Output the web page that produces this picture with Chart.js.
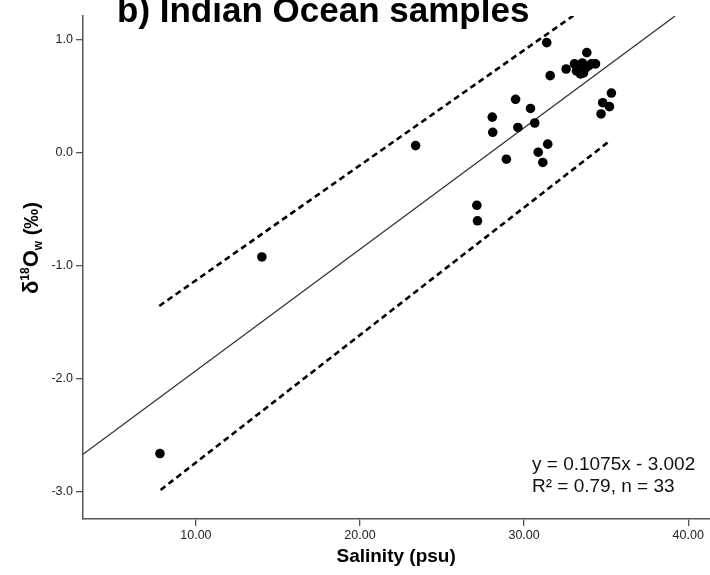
<!DOCTYPE html>
<html>
<head>
<meta charset="utf-8">
<script src="https://cdn.jsdelivr.net/npm/chart.js@4.4.1/dist/chart.umd.min.js"></script>
<style>
  html, body { margin: 0; padding: 0; background: #fff; overflow: hidden; }
  #wrap { width: 714px; height: 575px; position: relative; }
</style>
</head>
<body>
<div id="wrap"><canvas id="chart"></canvas></div>
<script>
// 样本数据：盐度 (psu) 和 δ18Ow (‰)
const salinity = [
    7.81, 14.02, 23.39, 31.38, 31.59, 32.56, 33.82, 29.48, 30.39, 28.06,
    28.09, 29.62, 30.65, 28.92, 30.86, 31.44, 31.14, 27.12, 27.16, 34.69,
    34.79, 35.20, 35.32, 33.07, 33.19, 33.37, 33.55, 33.62, 33.74, 33.92,
    34.10, 34.35, 33.43
];
const d18O = [
    -2.66, -0.92, 0.065, 0.976, 0.684, 0.743, 0.888, 0.475, 0.394, 0.317,
    0.183, 0.226, 0.265, -0.055, 0.007, 0.078, -0.084, -0.463, -0.60, 0.345,
    0.445, 0.41, 0.53, 0.788, 0.726, 0.761, 0.796, 0.708, 0.752, 0.77,
    0.788, 0.788, 0.699
];

// 回归线 y = 0.1075x - 3.002
const fitSlope = 0.1075;
const fitIntercept = -3.002;
const fitX = [3.12, 39.2];

// 预测区间（虚线）
const upperX = [7.77, 33.0];
const upperY = [-1.354, 1.215];
const lowerX = [7.85, 35.24];
const lowerY = [-2.982, 0.109];

// 坐标轴
const xTicks = [10, 20, 30, 40];
const yTicks = [-3, -2, -1, 0, 1];
const xRange = [3.12, 41.28];
const yRange = [-3.239, 1.212];

const titleText = 'b) Indian Ocean samples';
const eqLines = ['y = 0.1075x - 3.002', 'R\u00b2 = 0.79, n = 33'];

const FONT = '"Liberation Sans", Arial, sans-serif';
const AXIS_COLOR = '#555';

function toPoints(xs, ys) {
    return xs.map((x, i) => ({ x: x, y: ys[i] }));
}

// 标题、y轴标题和公式
const textPlugin = {
    id: 'texts',
    afterDraw(chart) {
        const ctx = chart.ctx;
        ctx.save();
        ctx.fillStyle = '#000';
        ctx.textBaseline = 'alphabetic';

        // 标题（顶部被裁切）
        ctx.font = 'bold 35px ' + FONT;
        ctx.textAlign = 'left';
        ctx.fillText(titleText, 117, 22);

        // 公式
        ctx.font = '19px ' + FONT;
        ctx.fillStyle = '#111';
        ctx.fillText(eqLines[0], 532, 470);
        ctx.fillText(eqLines[1], 532, 492);

        // y轴标题 δ18Ow (‰)
        ctx.translate(38, 248);
        ctx.rotate(-Math.PI / 2);
        const parts = [
            { t: '\u03b4', f: 'bold 22px ', dy: 0 },
            { t: '18', f: 'bold 12px ', dy: -9 },
            { t: 'O', f: 'bold 22px ', dy: 0 },
            { t: 'w', f: 'bold 12px ', dy: 4 },
            { t: ' (\u2030)', f: 'bold 20px ', dy: 0 }
        ];
        let total = 0;
        parts.forEach(p => { ctx.font = p.f + FONT; p.w = ctx.measureText(p.t).width; total += p.w; });
        let x = -total / 2;
        ctx.fillStyle = '#000';
        parts.forEach(p => {
            ctx.font = p.f + FONT;
            ctx.fillText(p.t, x, p.dy);
            x += p.w;
        });
        ctx.restore();
    }
};

const ctx = document.getElementById('chart').getContext('2d');
const chart = new Chart(ctx, {
    type: 'scatter',
    data: {
        datasets: [
            {
                label: 'samples',
                data: toPoints(salinity, d18O),
                backgroundColor: '#000',
                borderColor: '#000',
                pointRadius: 4.8,
                borderWidth: 0,
                order: 0
            },
            {
                label: 'fit',
                data: fitX.map(x => ({ x: x, y: fitSlope * x + fitIntercept })),
                showLine: true,
                borderColor: '#333',
                borderWidth: 1.3,
                pointRadius: 0,
                order: 1
            },
            {
                label: 'upper',
                data: toPoints(upperX, upperY),
                showLine: true,
                borderColor: '#000',
                borderWidth: 2.6,
                borderDash: [6, 4],
                pointRadius: 0,
                order: 2
            },
            {
                label: 'lower',
                data: toPoints(lowerX, lowerY),
                showLine: true,
                borderColor: '#000',
                borderWidth: 2.6,
                borderDash: [6, 4],
                pointRadius: 0,
                order: 2
            }
        ]
    },
    options: {
        responsive: true,
        maintainAspectRatio: false,
        animation: false,
        layout: { padding: { top: 16, right: 0, left: 0, bottom: 0 } },
        plugins: {
            legend: { display: false },
            tooltip: { enabled: false },
            title: { display: false }
        },
        scales: {
            x: {
                type: 'linear',
                min: xRange[0],
                max: xRange[1],
                afterBuildTicks: s => { s.ticks = xTicks.map(v => ({ value: v })); },
                afterFit: s => { s.height = 56; },
                grid: { display: true, drawOnChartArea: false, drawTicks: true, tickLength: 7, color: AXIS_COLOR, lineWidth: 1.3 },
                border: { display: true, color: AXIS_COLOR, width: 1.5 },
                ticks: {
                    padding: 2,
                    color: '#222',
                    font: { family: FONT, size: 12.5 },
                    maxRotation: 0,
                    callback: v => v.toFixed(2)
                },
                title: {
                    display: true,
                    text: 'Salinity (psu)',
                    color: '#000',
                    font: { family: FONT, size: 19, weight: 'bold' },
                    padding: { top: 0, bottom: 7 }
                }
            },
            y: {
                type: 'linear',
                min: yRange[0],
                max: yRange[1],
                afterBuildTicks: s => { s.ticks = yTicks.map(v => ({ value: v })); },
                afterFit: s => { s.width = 83; },
                grid: { display: true, drawOnChartArea: false, drawTicks: true, tickLength: 7, color: AXIS_COLOR, lineWidth: 1.3 },
                border: { display: true, color: AXIS_COLOR, width: 1.5 },
                ticks: {
                    padding: 3,
                    color: '#222',
                    font: { family: FONT, size: 12.5 },
                    callback: v => v.toFixed(1)
                }
            }
        }
    },
    plugins: [textPlugin]
});
</script>
</body>
</html>
